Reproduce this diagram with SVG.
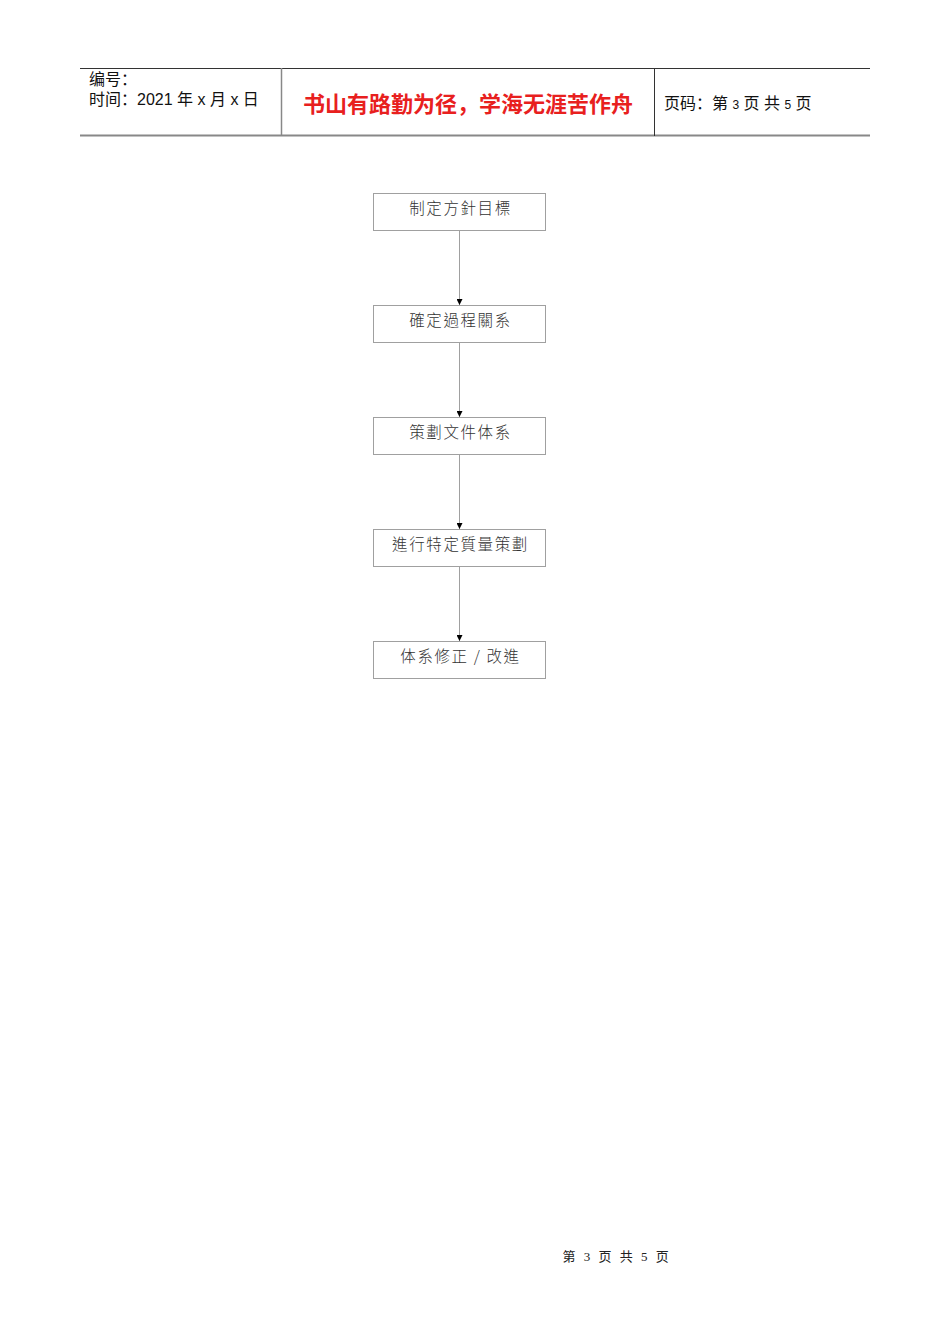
<svg xmlns="http://www.w3.org/2000/svg" width="950" height="1344" viewBox="0 0 950 1344">
<style>
.hd{font-family:"Liberation Sans","Noto Sans CJK SC",sans-serif;font-size:16px;fill:#111}
.node rect{fill:#fff;stroke:#a0a0a0;stroke-width:1}
.node text{font-family:"Noto Sans CJK TC",sans-serif;font-size:15.5px;font-weight:300;fill:#333;text-anchor:middle;letter-spacing:1.6px}
.edge{stroke:#a0a0a0;stroke-width:1;fill:none;marker-end:url(#ah)}
</style>
<defs>
<marker id="ah" markerWidth="6" markerHeight="6" refX="6" refY="3" orient="auto" markerUnits="userSpaceOnUse">
<path d="M0,0 L6,3 L0,6 Z" fill="#000"/>
</marker>
</defs>
<rect width="950" height="1344" fill="#fff"/>
<g id="header">
<line x1="80" y1="68.5" x2="870" y2="68.5" stroke="#333" stroke-width="1"/>
<line x1="80" y1="135.5" x2="870" y2="135.5" stroke="#888" stroke-width="2"/>
<line x1="281.5" y1="68" x2="281.5" y2="136" stroke="#888" stroke-width="1.5"/>
<line x1="654.5" y1="68" x2="654.5" y2="136" stroke="#333" stroke-width="1"/>
<text class="hd" x="89" y="85">编号：</text>
<text class="hd" x="89" y="105">时间：2021 年 x 月 x 日</text>
<text x="468" y="112" text-anchor="middle" font-family="Noto Sans CJK SC,sans-serif" font-size="22" font-weight="bold" fill="#e8201e">书山有路勤为径，学海无涯苦作舟</text>
<text class="hd" x="664" y="109">页码：第 <tspan font-size="12">3</tspan> 页  共 <tspan font-size="12">5</tspan> 页</text>
</g>
<g id="connectors">
<line class="edge" x1="459.5" y1="230" x2="459.5" y2="305"/>
<line class="edge" x1="459.5" y1="342" x2="459.5" y2="417"/>
<line class="edge" x1="459.5" y1="454" x2="459.5" y2="529"/>
<line class="edge" x1="459.5" y1="566" x2="459.5" y2="641"/>
</g>
<g id="n1" class="node"><rect x="373.5" y="193.5" width="172" height="37"/><text x="460.5" y="214">制定方針目標</text></g>
<g id="n2" class="node"><rect x="373.5" y="305.5" width="172" height="37"/><text x="460.5" y="326">確定過程關系</text></g>
<g id="n3" class="node"><rect x="373.5" y="417.5" width="172" height="37"/><text x="460.5" y="438">策劃文件体系</text></g>
<g id="n4" class="node"><rect x="373.5" y="529.5" width="172" height="37"/><text x="460.5" y="550">進行特定質量策劃</text></g>
<g id="n5" class="node"><rect x="373.5" y="641.5" width="172" height="37"/><text x="460.5" y="662">体系修正  / 改進</text></g>
<text x="617" y="1261" text-anchor="middle" font-family="Liberation Serif,Noto Sans CJK SC,serif" font-size="13" fill="#222" letter-spacing="2.5">第 3 页 共 5 页</text>
</svg>
